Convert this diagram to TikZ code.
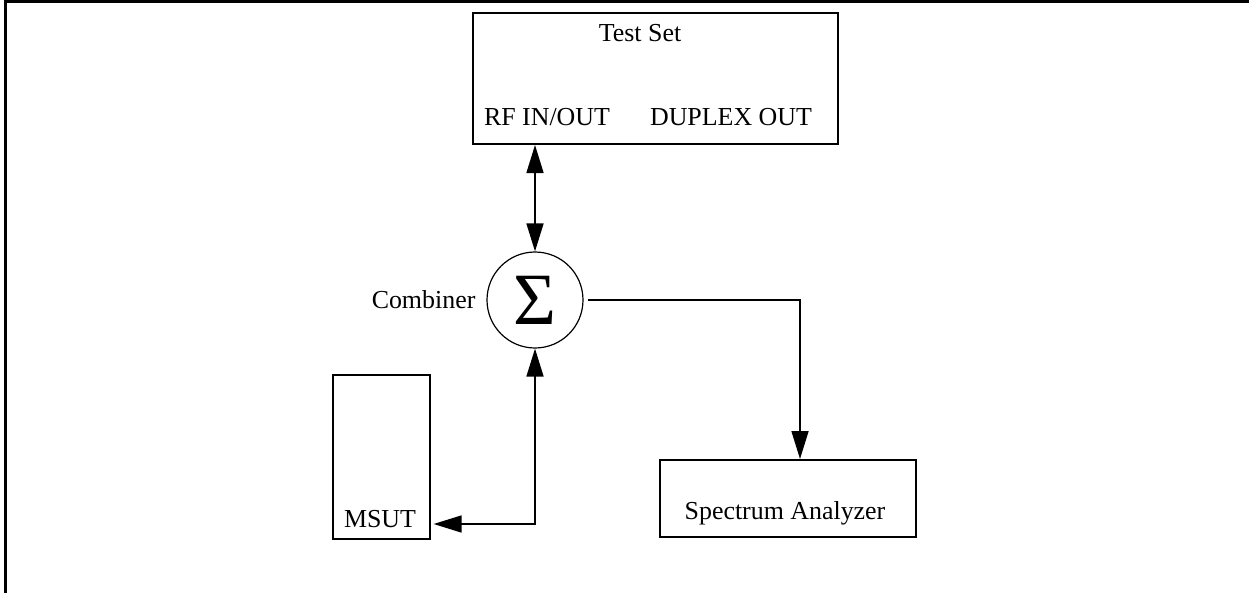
\documentclass[tikz,border=0pt]{standalone}
\usepackage{fontspec}
\setmainfont{Liberation Serif}
\usepackage{tikz}
\usetikzlibrary{arrows.meta,positioning,calc}

\begin{document}
\begin{tikzpicture}[
  x=0.5bp,y=-0.5bp,
  >={Triangle[length=14bp,width=8.5bp]},
  font=\fontsize{13}{15}\selectfont,
  unitbox/.style={draw,line width=1bp,inner sep=0pt},
  thinbox/.style={draw,line width=0.6bp,inner sep=0pt},
  sumnode/.style={draw,circle,line width=0.6bp,inner sep=0pt,minimum size=48bp},
  wire/.style={line width=0.8bp}
]
\useasboundingbox (0,0) rectangle (1249,593);

% ---- frame ----
\draw[line width=1.5bp] (5.5,593) -- (5.5,1.5) -- (1249,1.5);

% ---- instruments ----
\node[unitbox,minimum width=182.5bp,minimum height=65.5bp] (testset) at (655.5,78.5) {};
\node (tstitle) at (640,33) {Test Set};
\node (rfport) at (547,117) {RF IN/OUT};
\node (dupport) at (731,117) {DUPLEX OUT};

\node[sumnode] (comb) at (535,300) {\fontsize{37}{37}\selectfont Σ};
\node[left=2bp of comb] (combtext) {Combiner};

\node[thinbox,minimum width=48.5bp,minimum height=82bp] (msut) at (381.5,457) {};
\node (msuttext) at (380,519) {MSUT};

\node[unitbox,minimum width=128bp,minimum height=38.5bp] (spec) at (788,498.5) {};
\node (spectext) at (785,513) {Spectrum Analyzer};

% ---- connections ----
\draw[wire,<->] (testset.south -| comb.north) -- (comb.north);

\coordinate (specin) at ([xshift=6bp]spec.north);
\draw[wire,->] ([xshift=2bp]comb.east) -| (specin);

\coordinate (msutin) at ([xshift=1.5bp]msut.east |- 0,524);
\draw[wire,<->] (comb.south) |- (msutin);

\end{tikzpicture}
\end{document}
